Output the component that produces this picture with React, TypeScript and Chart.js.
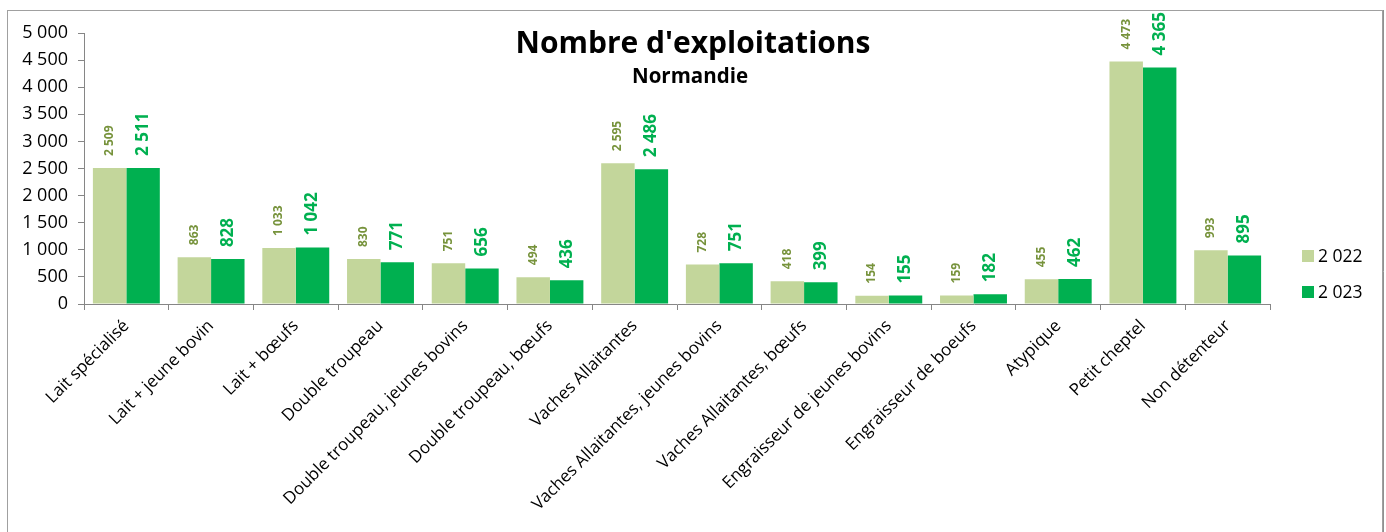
import React, { useEffect, useRef } from "react";
import { Chart, registerables } from "chart.js";

Chart.register(...registerables);

const categories = [
  "Lait spécialisé",
  "Lait + jeune bovin",
  "Lait + bœufs",
  "Double troupeau",
  "Double troupeau, jeunes bovins",
  "Double troupeau, bœufs",
  "Vaches Allaitantes",
  "Vaches Allaitantes, jeunes bovins",
  "Vaches Allaitantes, bœufs",
  "Engraisseur de jeunes bovins",
  "Engraisseur de boeufs",
  "Atypique",
  "Petit cheptel",
  "Non détenteur",
];
const values2022 = [2509, 863, 1033, 830, 751, 494, 2595, 728, 418, 154, 159, 455, 4473, 993];
const values2023 = [2511, 828, 1042, 771, 656, 436, 2486, 751, 399, 155, 182, 462, 4365, 895];
const seriesNames = ["2 022", "2 023"];
const titleText = "Nombre d'exploitations";
const subtitleText = "Normandie";
const yMax = 5000;
const yStep = 500;

const FONT = "'Open Sans', Lato, sans-serif";
const COLOR_2022 = "#C3D69B";
const COLOR_2023 = "#00B050";
const LABEL_2022 = "#77933C";
const LABEL_2023 = "#00B050";
const AXIS = "#868686";

const fmt = (v: number) => String(v).replace(/\B(?=(\d{3})+(?!\d))/g, " ");

const decorPlugin = {
  id: "decor",
  beforeDraw(chart: any) {
    const ctx = chart.ctx;
    ctx.save();
    ctx.fillStyle = "#ffffff";
    ctx.fillRect(0, 0, chart.width, chart.height);
    ctx.strokeStyle = "#a0a0a0";
    ctx.lineWidth = 1;
    ctx.strokeRect(7.5, 10.5, 1375, 540);
    ctx.strokeStyle = "#909090";
    ctx.beginPath();
    ctx.moveTo(1383.5, 10);
    ctx.lineTo(1383.5, 540);
    ctx.stroke();
    ctx.restore();
  },
  afterDatasetsDraw(chart: any) {
    const ctx = chart.ctx;
    ctx.save();
    // data labels
    chart.data.datasets.forEach((ds: any, di: number) => {
      const meta = chart.getDatasetMeta(di);
      meta.data.forEach((el: any, i: number) => {
        const v = ds.data[i];
        ctx.save();
        ctx.translate(el.x, el.y - 12);
        ctx.rotate(-Math.PI / 2);
        ctx.textAlign = "left";
        ctx.textBaseline = "middle";
        if (di === 0) {
          ctx.font = `bold 12px ${FONT}`;
          ctx.fillStyle = LABEL_2022;
        } else {
          ctx.font = `bold 17px ${FONT}`;
          ctx.fillStyle = LABEL_2023;
        }
        ctx.fillText(fmt(v), 0, 0);
        ctx.restore();
      });
    });
    // title
    ctx.fillStyle = "#000";
    ctx.textAlign = "center";
    ctx.textBaseline = "alphabetic";
    ctx.font = `bold 30px ${FONT}`;
    ctx.fillText(titleText, 693, 53);
    ctx.font = `bold 20.5px ${FONT}`;
    ctx.fillText(subtitleText, 690, 83);
    // legend
    const colors = [COLOR_2022, COLOR_2023];
    const ys = [256, 292];
    ctx.font = `17.5px ${FONT}`;
    ctx.textAlign = "left";
    ctx.textBaseline = "middle";
    seriesNames.forEach((n, i) => {
      ctx.fillStyle = colors[i];
      ctx.fillRect(1302, ys[i] - 6, 12, 12);
      ctx.fillStyle = "#000";
      ctx.fillText(n, 1318, ys[i] + 1);
    });
    ctx.restore();
  },
};

export default function App() {
  const ref = useRef<HTMLCanvasElement | null>(null);
  useEffect(() => {
    document.body.style.margin = "0";
    const canvas = ref.current;
    if (!canvas) return;
    const chart = new Chart(canvas, {
      type: "bar",
      data: {
        labels: categories,
        datasets: [
          {
            label: seriesNames[0],
            data: values2022,
            backgroundColor: COLOR_2022,
            barPercentage: 1,
            categoryPercentage: 0.79,
          },
          {
            label: seriesNames[1],
            data: values2023,
            backgroundColor: COLOR_2023,
            barPercentage: 1,
            categoryPercentage: 0.79,
          },
        ],
      },
      options: {
        responsive: false,
        animation: false,
        devicePixelRatio: 1,
        layout: { padding: { top: 33, right: 116, left: 0, bottom: 0 } },
        plugins: {
          legend: { display: false },
          title: { display: false },
          tooltip: { enabled: false },
        },
        scales: {
          x: {
            grid: {
              display: true,
              drawOnChartArea: false,
              drawTicks: true,
              tickLength: 6,
              color: AXIS,
              offset: true,
            },
            border: { color: AXIS, width: 1 },
            ticks: {
              autoSkip: false,
              maxRotation: 45,
              minRotation: 45,
              color: "#000",
              padding: 6,
              font: { family: FONT, size: 17 },
            },
            afterFit: (s: any) => {
              s.height = 228;
            },
          },
          y: {
            min: 0,
            max: yMax,
            ticks: {
              stepSize: yStep,
              color: "#000",
              padding: 10,
              font: { family: FONT, size: 18 },
              callback: (v: any) => fmt(Number(v)),
            },
            grid: {
              display: true,
              drawOnChartArea: false,
              drawTicks: true,
              tickLength: 6,
              color: AXIS,
            },
            border: { color: AXIS, width: 1 },
            afterFit: (s: any) => {
              s.width = 84;
            },
          },
        },
      },
      plugins: [decorPlugin],
    });
    return () => chart.destroy();
  }, []);
  return (
    <div style={{ width: 1386, height: 532 }}>
      <canvas ref={ref} width={1386} height={532} style={{ display: "block" }} />
    </div>
  );
}
